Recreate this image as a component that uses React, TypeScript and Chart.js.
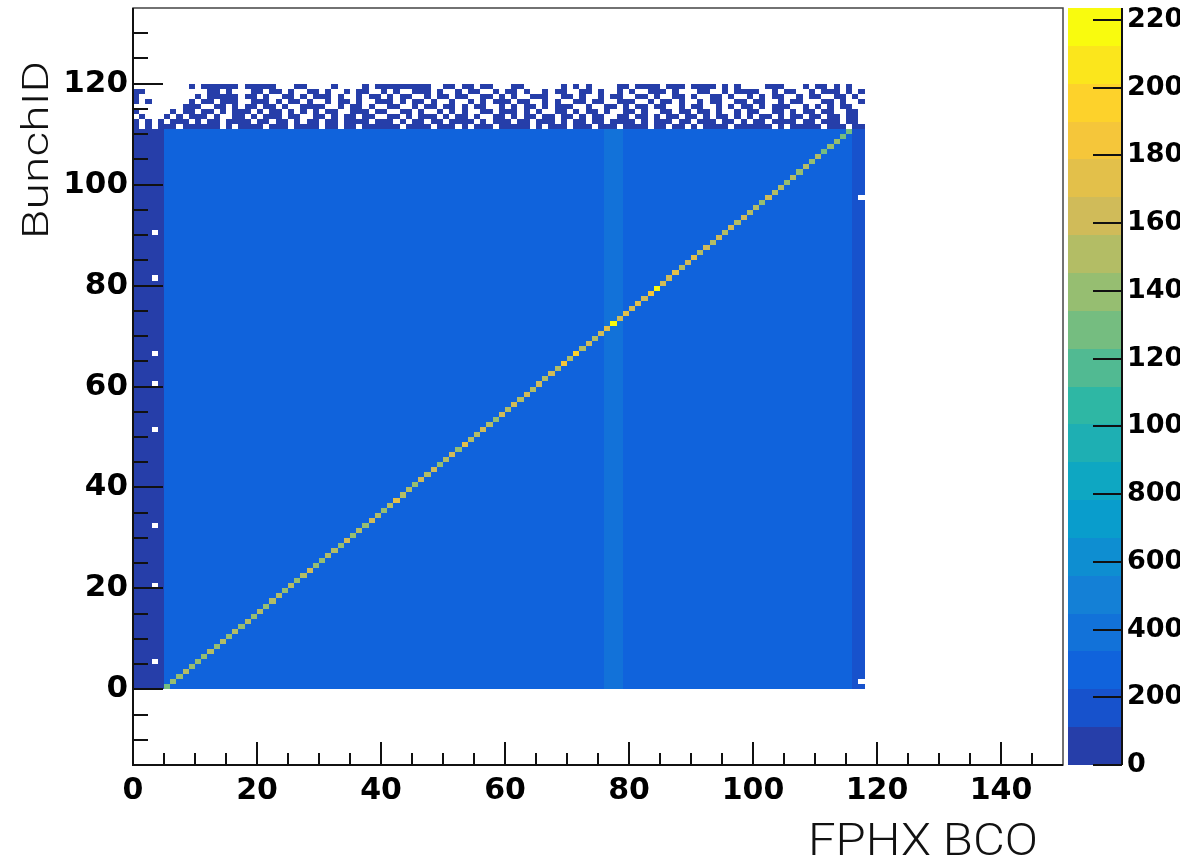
import React, { useEffect, useRef } from "react";
import { Chart, registerables } from "chart.js";

Chart.register(...registerables);

// ---------- text ----------
const xAxisTitle = "FPHX BCO";
const yAxisTitle = "BunchID";

// ---------- axis ranges / ticks ----------
const xMin = 0;
const xMax = 150;
const yMin = -15;
const yMax = 135;
const zMin = 0;
const zMax = 2235;
const majorTickStep = 20;
const minorTickStep = 5;
const zTickValues = [0, 200, 400, 600, 800, 1000, 1200, 1400, 1600, 1800, 2000, 2200];
const contourLevels = 20;
const nBinsX = 118;

// ---------- ROOT kBird palette ----------
const birdStops = [0, 0.125, 0.25, 0.375, 0.5, 0.625, 0.75, 0.875, 1];
const birdRed = [0.2082, 0.0592, 0.078, 0.0232, 0.1802, 0.5301, 0.8186, 0.9956, 0.9764];
const birdGreen = [0.1664, 0.3599, 0.5041, 0.6419, 0.7178, 0.7492, 0.7328, 0.7862, 0.9832];
const birdBlue = [0.5293, 0.8684, 0.8385, 0.7914, 0.6425, 0.4662, 0.3499, 0.1968, 0.0539];

// ---------- histogram content ----------
// areas of nearly uniform bin content (bin edges in FPHX BCO / BunchID, counts)
const bulkRegions = [
  { x0: 0, x1: 118, y0: 0, y1: 111, value: 290 },
  { x0: 0, x1: 5, y0: 0, y1: 111, value: 90 },
  { x0: 116, x1: 118, y0: 0, y1: 111, value: 170 },
  { x0: 76, x1: 79, y0: 0, y1: 111, value: 345 },
];

// empty bins inside the filled area [FPHX BCO, BunchID]
const emptyBins = [
  [3, 90], [3, 81], [3, 66], [3, 60], [3, 51], [3, 32], [3, 20], [3, 5],
  [117, 97], [117, 1],
];

// correlated entries: BunchID = FPHX BCO - diagonalOffset
const diagonalOffset = 5;
const diagonalCounts = [
  1300, 1420, 1380, 1500, 1350, 1450, 1400, 1520, 1380, 1460,
  1400, 1500, 1350, 1480, 1420, 1560, 1380, 1460, 1500, 1420,
  1480, 1380, 1520, 1650, 1420, 1380, 1540, 1460, 1400, 1580,
  1450, 1500, 1400, 1620, 1480, 1420, 1560, 1750, 1460, 1520,
  1400, 1580, 1480, 1650, 1430, 1520, 1600, 1450, 1700, 1520,
  1480, 1620, 1540, 1420, 1580, 1500, 1650, 1460, 1580, 1520,
  1620, 1480, 1600, 1540, 1850, 1500, 1900, 1560, 1650, 1520,
  1600, 1680, 2150, 1620, 1760, 1580, 1700, 1640, 1850, 2200,
  1650, 1580, 1720, 1520, 1620, 1680, 1540, 1600, 1500, 1640,
  1520, 1580, 1480, 1620, 1500, 1540, 1420, 1580, 1460, 1520,
  1400, 1480, 1420, 1540, 1380, 1460, 1320, 1420, 1380, 1300, 1250,
];

// sparse low-count bins above the bulk, BunchID 119 (first string) down to 111
const sparseTopRow = 119;
const sparseCount = 20;
const sparseRows = [
  ".........#" + ".######.##" + "###...##.." + "..#....#.#" + "########.." + "##.##.##.." +
    ".##......#" + ".#.#....##" + ".####.###." + "####.#.#.." + "..###...#." + "##.#.#..",
  "##........" + "..##.#...#" + "#.##.#..##" + ".#..#.##.." + "#.#..###.#" + "..#.##..#." +
    "##.#..#.##" + "..##.#..#." + "#..###.#.." + ".##..#.###" + "#..#.##..#" + ".###.#.#",
  "#........." + "#.#####.##" + ".#..##.#.#" + "##.#..#.##" + ".#.##..#.#" + "#.##..##.#" +
    ".#..###..#" + "#.#..#.##." + ".##.#..##." + "#..##.#..#" + ".#.##..#.#" + "#..##.#.",
  "#.#......#" + ".##.###..#" + "##.#.##.#." + ".#.##.#..#" + "##.#.##.#." + ".#..#.#.##" +
    "#.##..#.#." + ".##.##..##" + "#..#.##.#." + ".#.##..##." + "##..#.##.." + ".##.#..#",
  "........##" + "#..##.#.##" + ".##.#..###" + "#..#.##.#." + ".##..#.##." + "##.#.##..#" +
    ".#.##.#.##" + "#..#..##.#" + ".##.##..#." + "##..#.#.##" + ".#.###..#." + "#.#.##..",
  "#.....#.##" + ".##.#.###." + "#.##.#.#.#" + ".##..###.#" + "#..##.#..#" + ".#.#..##.#" +
    "##.#.#..##" + ".#.##.#..#" + "#.#..##.##" + ".##.#..#.#" + "#..##.#.##" + ".##..##.",
  ".#...#.#.#" + "##.#..##.#" + ".###.##..#" + "#.#.##.##." + ".##.#.###." + "#.##.#..##" +
    ".#.##.##.#" + "#.#.##..##" + ".##.#.##.#" + "#.#.##.#.#" + ".##.#.##.#" + "#.##.##.",
  "#.#.#.###." + "#.##.####." + "##.##.#.##" + ".##.####.#" + "##.#.##.##" + ".####.#.##" +
    "#.##.###.#" + ".##.##.###" + "#.#.###.##" + ".###.##.#." + "##.####.##" + ".###.##.",
  "#.#.###.##" + "####.#.###" + "#.###.####" + ".##.##.###" + "###.####.#" + "##.#.###.#" +
    "####.#.###" + ".###.###.#" + "###.##.##." + "#.####.###" + "###.#.####" + "#.###.##",
];

// ---------- build datasets ----------
type Cell = { x: number; y: number; w: number; h: number; v: number };

const bulkCells: Cell[] = bulkRegions.map((r) => ({
  x: r.x0, y: r.y0, w: r.x1 - r.x0, h: r.y1 - r.y0, v: r.value,
}));
const emptyCells: Cell[] = emptyBins.map(([x, y]) => ({ x, y, w: 1, h: 1, v: 0 }));
const sparseCells: Cell[] = [];
sparseRows.forEach((row, r) => {
  const y = sparseTopRow - r;
  for (let i = 0; i < Math.min(row.length, nBinsX); i++) {
    if (row[i] === "#") sparseCells.push({ x: i, y, w: 1, h: 1, v: sparseCount });
  }
});
const diagonalCells: Cell[] = diagonalCounts.map((v, i) => ({
  x: i + diagonalOffset, y: i, w: 1, h: 1, v,
}));

// ---------- colours ----------
function birdColor(f: number): string {
  const t0 = Math.max(0, Math.min(1, f));
  let i = 0;
  while (i < birdStops.length - 2 && t0 > birdStops[i + 1]) i++;
  const t = (t0 - birdStops[i]) / (birdStops[i + 1] - birdStops[i]);
  const r = birdRed[i] + t * (birdRed[i + 1] - birdRed[i]);
  const g = birdGreen[i] + t * (birdGreen[i + 1] - birdGreen[i]);
  const b = birdBlue[i] + t * (birdBlue[i + 1] - birdBlue[i]);
  return `rgb(${Math.round(r * 255)},${Math.round(g * 255)},${Math.round(b * 255)})`;
}
function levelColor(k: number): string {
  return birdColor((k + 0.99) / contourLevels);
}
function binColor(v: number): string {
  if (v <= 0) return "#ffffff";
  const k = Math.min(contourLevels - 1, Math.max(0, Math.floor((v - zMin) / ((zMax - zMin) / contourLevels))));
  return levelColor(k);
}

// ---------- plugins ----------
const heatmapPlugin = {
  id: "heatmap",
  beforeDatasetsDraw(chart: any) {
    const { ctx, chartArea: a, scales } = chart;
    const xs = scales.x;
    const ys = scales.y;
    ctx.save();
    ctx.beginPath();
    ctx.rect(a.left, a.top, a.right - a.left, a.bottom - a.top);
    ctx.clip();
    chart.data.datasets.forEach((ds: any) => {
      (ds.data as Cell[]).forEach((c) => {
        const l = Math.round(xs.getPixelForValue(c.x));
        const r = Math.round(xs.getPixelForValue(c.x + c.w));
        const b = Math.round(ys.getPixelForValue(c.y));
        const t = Math.round(ys.getPixelForValue(c.y + c.h));
        ctx.fillStyle = binColor(c.v);
        ctx.fillRect(l, t, r - l, b - t);
      });
    });
    ctx.restore();
  },
};

const framePlugin = {
  id: "frame",
  afterDraw(chart: any) {
    const { ctx, chartArea: a, scales } = chart;
    const xs = scales.x;
    const ys = scales.y;
    const zs = scales.z;
    ctx.save();

    // inward tick marks
    ctx.strokeStyle = "#111";
    ctx.lineWidth = 2;
    ctx.beginPath();
    for (let v = xMin + minorTickStep; v < xMax; v += minorTickStep) {
      const px = Math.round(xs.getPixelForValue(v));
      const len = v % majorTickStep === 0 ? 23 : 12;
      ctx.moveTo(px, a.bottom);
      ctx.lineTo(px, a.bottom - len);
    }
    for (let v = yMin + minorTickStep; v < yMax; v += minorTickStep) {
      const py = Math.round(ys.getPixelForValue(v));
      const len = v % majorTickStep === 0 ? 30 : 15;
      ctx.moveTo(a.left, py);
      ctx.lineTo(a.left + len, py);
    }
    ctx.stroke();

    // frame: thin top / right, heavier axis lines
    ctx.lineWidth = 1.5;
    ctx.strokeStyle = "#444";
    ctx.strokeRect(a.left, a.top, a.right - a.left, a.bottom - a.top);
    ctx.lineWidth = 2;
    ctx.strokeStyle = "#111";
    ctx.beginPath();
    ctx.moveTo(a.left, a.top);
    ctx.lineTo(a.left, a.bottom);
    ctx.lineTo(a.right, a.bottom);
    ctx.stroke();

    // colour bar
    const barLeft = a.right + 5;
    const barRight = a.right + 59;
    for (let k = 0; k < contourLevels; k++) {
      const z0 = zMin + (k * (zMax - zMin)) / contourLevels;
      const z1 = zMin + ((k + 1) * (zMax - zMin)) / contourLevels;
      const p0 = Math.round(zs.getPixelForValue(z0));
      const p1 = Math.round(zs.getPixelForValue(z1));
      ctx.fillStyle = levelColor(k);
      ctx.fillRect(barLeft, p1, barRight - barLeft, p0 - p1);
    }
    ctx.strokeStyle = "#111";
    ctx.lineWidth = 2;
    ctx.beginPath();
    ctx.moveTo(barRight, a.top);
    ctx.lineTo(barRight, a.bottom);
    zTickValues.forEach((v) => {
      const py = Math.round(zs.getPixelForValue(v));
      ctx.moveTo(barRight, py);
      ctx.lineTo(barRight - 29, py);
    });
    ctx.stroke();

    // axis titles
    ctx.fillStyle = "#111";
    ctx.textBaseline = "alphabetic";
    ctx.textAlign = "left";
    ctx.font = '300 45px Roboto, "Open Sans", "DejaVu Sans", sans-serif';
    const wx = ctx.measureText(xAxisTitle).width;
    ctx.save();
    ctx.translate(808, 855);
    ctx.scale(230 / wx, 1);
    ctx.fillText(xAxisTitle, 0, 0);
    ctx.restore();

    ctx.font = '300 37px Roboto, "Open Sans", "DejaVu Sans", sans-serif';
    const wy = ctx.measureText(yAxisTitle).width;
    ctx.save();
    ctx.translate(48, 239);
    ctx.rotate(-Math.PI / 2);
    ctx.scale(178 / wy, 1);
    ctx.fillText(yAxisTitle, 0, 0);
    ctx.restore();

    ctx.restore();
  },
};

const tickFont = { family: '"DejaVu Sans", "Liberation Sans", Arial, sans-serif', weight: "bold" as const };

export default function App() {
  const canvasRef = useRef<HTMLCanvasElement | null>(null);

  useEffect(() => {
    if (!canvasRef.current) return;
    const chart = new Chart(canvasRef.current, {
      type: "scatter",
      data: {
        datasets: [
          { label: "bulk", data: bulkCells as any, pointRadius: 0 },
          { label: "empty", data: emptyCells as any, pointRadius: 0 },
          { label: "sparse", data: sparseCells as any, pointRadius: 0 },
          { label: "diagonal", data: diagonalCells as any, pointRadius: 0 },
        ],
      },
      options: {
        animation: false,
        responsive: true,
        maintainAspectRatio: false,
        devicePixelRatio: 1,
        events: [],
        layout: { padding: { top: 8, left: 0, right: 0, bottom: 0 } },
        plugins: { legend: { display: false }, tooltip: { enabled: false } },
        scales: {
          x: {
            type: "linear",
            position: "bottom",
            min: xMin,
            max: xMax,
            grid: { display: false, drawTicks: false },
            border: { display: false },
            ticks: {
              stepSize: majorTickStep,
              includeBounds: false,
              autoSkip: false,
              maxTicksLimit: 40,
              maxRotation: 0,
              padding: 8,
              color: "#000",
              font: { ...tickFont, size: 30 },
              callback: (v: any) => String(v),
            },
            afterFit: (s: any) => {
              s.height = 99;
              s.paddingLeft = 0;
              s.paddingRight = 0;
            },
          },
          y: {
            type: "linear",
            position: "left",
            min: yMin,
            max: yMax,
            grid: { display: false, drawTicks: false },
            border: { display: false },
            ticks: {
              stepSize: majorTickStep,
              includeBounds: false,
              autoSkip: false,
              maxTicksLimit: 40,
              padding: 5,
              color: "#000",
              font: { ...tickFont, size: 31 },
              callback: (v: any) => String(v),
            },
            afterFit: (s: any) => {
              s.width = 133;
              s.paddingTop = 0;
              s.paddingBottom = 0;
            },
          },
          z: {
            type: "linear",
            position: "right",
            min: zMin,
            max: zMax,
            grid: { display: false, drawTicks: false },
            border: { display: false },
            afterBuildTicks: (s: any) => {
              s.ticks = zTickValues.map((v) => ({ value: v }));
            },
            ticks: {
              autoSkip: false,
              padding: 64,
              color: "#000",
              font: { ...tickFont, size: 27 },
              callback: (v: any) => String(v),
            },
            afterFit: (s: any) => {
              s.width = 117;
              s.paddingTop = 0;
              s.paddingBottom = 0;
            },
          },
        },
      },
      plugins: [heatmapPlugin, framePlugin],
    } as any);
    return () => chart.destroy();
  }, []);

  return (
    <div style={{ position: "absolute", left: 0, top: 0, width: 1180, height: 864, background: "#fff" }}>
      <canvas ref={canvasRef} />
    </div>
  );
}
